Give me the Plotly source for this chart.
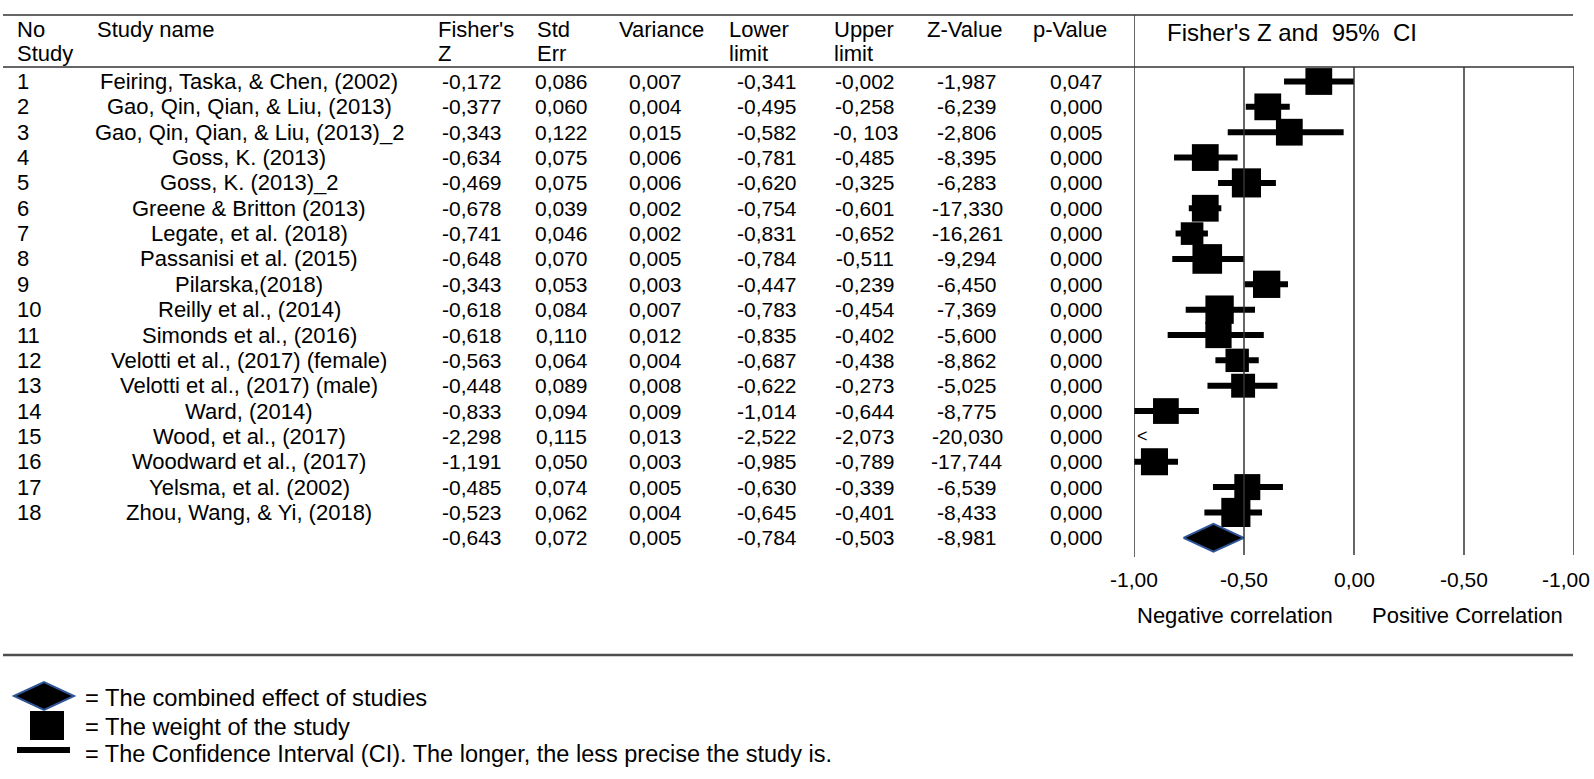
import plotly.graph_objects as go

# table columns, as printed
study_no = list(range(1, 19))
study_names = [
    "Feiring, Taska, & Chen, (2002)",
    "Gao, Qin, Qian, & Liu, (2013)",
    "Gao, Qin, Qian, & Liu, (2013)_2",
    "Goss, K. (2013)",
    "Goss, K. (2013)_2",
    "Greene & Britton (2013)",
    "Legate, et al. (2018)",
    "Passanisi et al. (2015)",
    "Pilarska,(2018)",
    "Reilly et al., (2014)",
    "Simonds et al., (2016)",
    "Velotti et al., (2017) (female)",
    "Velotti et al., (2017) (male)",
    "Ward, (2014)",
    "Wood, et al., (2017)",
    "Woodward et al., (2017)",
    "Yelsma, et al. (2002)",
    "Zhou, Wang, & Yi, (2018)",
]
fisher_z = ["-0,172", "-0,377", "-0,343", "-0,634", "-0,469", "-0,678", "-0,741", "-0,648", "-0,343",
            "-0,618", "-0,618", "-0,563", "-0,448", "-0,833", "-2,298", "-1,191", "-0,485", "-0,523", "-0,643"]
std_err = ["0,086", "0,060", "0,122", "0,075", "0,075", "0,039", "0,046", "0,070", "0,053",
           "0,084", "0,110", "0,064", "0,089", "0,094", "0,115", "0,050", "0,074", "0,062", "0,072"]
variance = ["0,007", "0,004", "0,015", "0,006", "0,006", "0,002", "0,002", "0,005", "0,003",
            "0,007", "0,012", "0,004", "0,008", "0,009", "0,013", "0,003", "0,005", "0,004", "0,005"]
lower_limit = ["-0,341", "-0,495", "-0,582", "-0,781", "-0,620", "-0,754", "-0,831", "-0,784", "-0,447",
               "-0,783", "-0,835", "-0,687", "-0,622", "-1,014", "-2,522", "-0,985", "-0,630", "-0,645", "-0,784"]
upper_limit = ["-0,002", "-0,258", "-0, 103", "-0,485", "-0,325", "-0,601", "-0,652", "-0,511", "-0,239",
               "-0,454", "-0,402", "-0,438", "-0,273", "-0,644", "-2,073", "-0,789", "-0,339", "-0,401", "-0,503"]
z_value = ["-1,987", "-6,239", "-2,806", "-8,395", "-6,283", "-17,330", "-16,261", "-9,294", "-6,450",
           "-7,369", "-5,600", "-8,862", "-5,025", "-8,775", "-20,030", "-17,744", "-6,539", "-8,433", "-8,981"]
p_value = ["0,047", "0,000", "0,005", "0,000", "0,000", "0,000", "0,000", "0,000", "0,000",
           "0,000", "0,000", "0,000", "0,000", "0,000", "0,000", "0,000", "0,000", "0,000", "0,000"]

# values as drawn in the forest panel
plot_z = [-0.160, -0.392, -0.294, -0.676, -0.489, -0.676, -0.736, -0.667, -0.397,
          -0.611, -0.616, -0.531, -0.504, -0.855, -2.298, -0.907, -0.485, -0.537]
plot_lo = [-0.318, -0.492, -0.574, -0.818, -0.618, -0.751, -0.811, -0.826, -0.497,
           -0.765, -0.847, -0.630, -0.666, -1.007, -2.522, -1.000, -0.641, -0.680]
plot_hi = [0.000, -0.292, -0.047, -0.529, -0.355, -0.603, -0.664, -0.501, -0.300,
           -0.450, -0.410, -0.433, -0.348, -0.705, -2.073, -0.800, -0.323, -0.418]
rel_weight = [1.03, 1.03, 1.03, 1.03, 1.12, 1.03, 0.87, 1.14, 1.05,
              1.09, 1.01, 0.90, 0.92, 0.99, 1.00, 1.04, 1.00, 1.12]
summary_z, summary_lo, summary_hi = -0.639, -0.775, -0.501

tick_vals = [-1, -0.5, 0, 0.5, 1]
tick_text = ["-1,00", "-0,50", "0,00", "-0,50", "-1,00"]

W, H = 1594, 779
ROW0, ROW_H = 81.5, 25.35
LINE = "#333333"
FONT = "Liberation Sans, Arial, sans-serif"


def px(x):
    return x / W


def py(y):
    return 1 - y / H


fig = go.Figure()

# CI bars
ci_x, ci_y = [], []
for i in range(len(study_no)):
    ci_x += [plot_lo[i], plot_hi[i], None]
    ci_y += [study_no[i], study_no[i], None]
fig.add_trace(go.Scatter(x=ci_x, y=ci_y, mode="lines", line=dict(color="black", width=6),
                         hoverinfo="skip", showlegend=False))

# weight boxes
fig.add_trace(go.Scatter(x=plot_z, y=study_no, mode="markers",
                         marker=dict(symbol="square", color="black", opacity=1,
                                     size=[26 * w for w in rel_weight], line=dict(width=0)),
                         showlegend=False))

# combined effect diamond
r_sum = len(study_no) + 1
h = 0.55
fig.add_trace(go.Scatter(x=[summary_lo, summary_z, summary_hi, summary_z, summary_lo],
                         y=[r_sum, r_sum - h, r_sum, r_sum + h, r_sum],
                         mode="lines", fill="toself", fillcolor="black",
                         line=dict(color="#2f5597", width=2), showlegend=False))

ann = []


def txt(x, y, s, anchor="left", size=22, xref="paper", yref="paper", **kw):
    ann.append(dict(x=x, y=y, xref=xref, yref=yref, text=s, showarrow=False,
                    xanchor=anchor, yanchor="middle",
                    font=dict(family=FONT, size=size, color="black"), **kw))


# header
txt(px(15), py(30), "No")
txt(px(15), py(54), "Study")
txt(px(95), py(30), "Study name")
headers = [("Fisher's", "Z"), ("Std", "Err"), ("Variance", ""), ("Lower", "limit"),
           ("Upper", "limit"), ("Z-Value", ""), ("p-Value", "")]
head_x = [436, 535, 617, 727, 832, 925, 1031]
for (h1, h2), hx in zip(headers, head_x):
    txt(px(hx), py(30), h1)
    if h2:
        txt(px(hx), py(54), h2)
txt(px(1165), py(33), "Fisher's Z and\u00a0 95%\u00a0 CI", size=24)

# rows
cols = [fisher_z, std_err, variance, lower_limit, upper_limit, z_value, p_value]
col_cx = [471.5, 561.5, 655.5, 766.5, 865, 967.5, 1076.5]
for i, r in enumerate(study_no):
    txt(px(15), r, str(r), yref="y")
    txt(px(249), r, study_names[i], anchor="center", yref="y")
for col, cx in zip(cols, col_cx):
    for i, v in enumerate(col):
        txt(px(cx), i + 1, v, anchor="center", size=21, yref="y")

# off-scale marker
for i, r in enumerate(study_no):
    if plot_hi[i] < tick_vals[0]:
        txt(tick_vals[0], r, "<", size=18, xref="x", yref="y", xshift=1)

# axis labels
for k, (tv, tt) in enumerate(zip(tick_vals, tick_text)):
    txt(tv, py(579), tt, anchor="center", size=21, xref="x",
        xshift=-8 if k == len(tick_vals) - 1 else 0)
txt(px(1135), py(615), "Negative correlation", size=22)
txt(px(1370), py(615), "Positive Correlation", size=22)

# legend text
txt(px(83), py(698), "= The combined effect of studies", size=23.7)
txt(px(83), py(727), "= The weight of the study", size=23.7)
txt(px(83), py(754), "= The Confidence Interval (CI). The longer, the less precise the study is.", size=23.5)

shapes = []


def hline(y, x0, x1, width=1.5, color=LINE):
    shapes.append(dict(type="line", xref="paper", yref="paper", x0=px(x0), x1=px(x1),
                       y0=py(y), y1=py(y), line=dict(color=color, width=width)))


hline(15, 3, 1573)
hline(67, 3, 1574)
hline(655, 3, 1573, width=2.5, color="#4d4d4d")
shapes.append(dict(type="line", xref="x", yref="paper", x0=tick_vals[0], x1=tick_vals[0],
                   y0=py(15), y1=py(557), line=dict(color=LINE, width=1.5)))
for tv in tick_vals[1:]:
    shapes.append(dict(type="line", xref="x", yref="paper", x0=tv, x1=tv,
                       y0=py(67), y1=py(555), line=dict(color=LINE, width=1.5)))

# legend glyphs
shapes.append(dict(type="path", xref="paper", yref="paper",
                   path=f"M {px(14)},{py(696)} L {px(44)},{py(682)} L {px(74)},{py(696)} L {px(44)},{py(710)} Z",
                   fillcolor="black", line=dict(color="#2f5597", width=2)))
shapes.append(dict(type="rect", xref="paper", yref="paper", x0=px(30), x1=px(64), y0=py(711), y1=py(740),
                   fillcolor="black", line=dict(width=0)))
shapes.append(dict(type="rect", xref="paper", yref="paper", x0=px(17), x1=px(70), y0=py(747), y1=py(753),
                   fillcolor="black", line=dict(width=0)))

fig.update_layout(
    width=W, height=H, margin=dict(l=0, r=0, t=0, b=0),
    paper_bgcolor="white", plot_bgcolor="white",
    xaxis=dict(domain=[px(1134), px(1574)], range=[-1, 1], showgrid=False, zeroline=False,
               showticklabels=False, showline=False),
    yaxis=dict(domain=[0, 1], range=[1 + (H - ROW0) / ROW_H, 1 - ROW0 / ROW_H], showgrid=False,
               zeroline=False, showticklabels=False, showline=False),
    annotations=ann, shapes=shapes, showlegend=False,
)

# drop the default page margin so the 1594x779 figure fills the window exactly
fig.write_html("out.html", config={"displayModeBar": False},
               post_script="document.body.style.margin='0';")
